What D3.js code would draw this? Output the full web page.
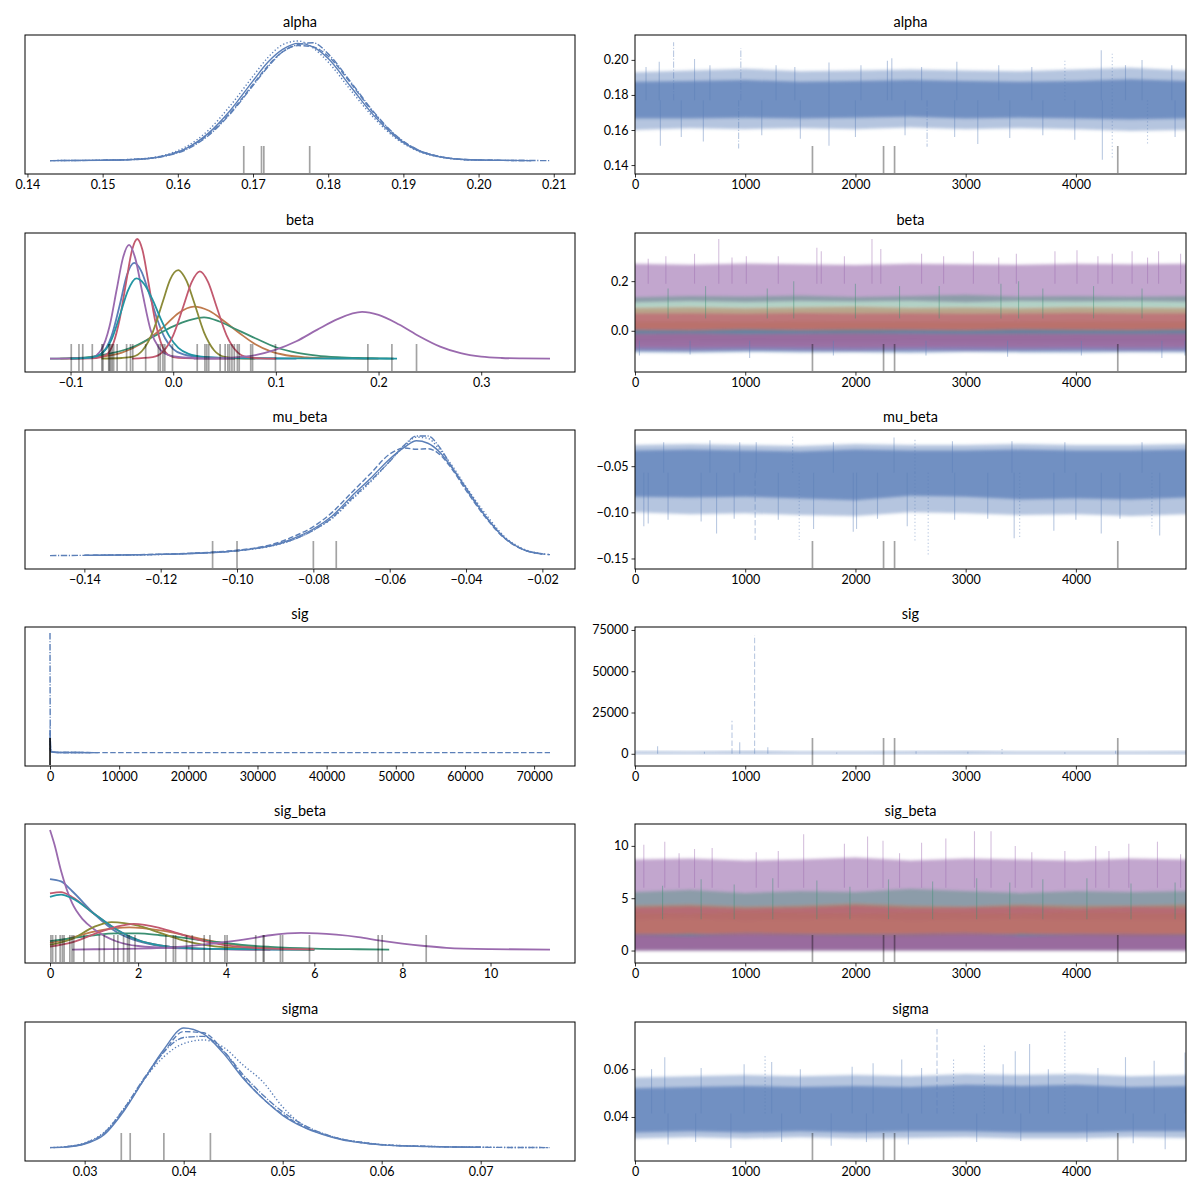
<!DOCTYPE html>
<html>
<head>
<meta charset="utf-8">
<script src="https://cdn.jsdelivr.net/npm/d3@7"></script>
<style>
  body { margin: 0; background: #fff; }
  svg text { font-family: "Liberation Sans Narrow", "Lato", sans-serif; fill: #000; }
</style>
</head>
<body>
<div id="chart"></div>
<script>
// ---- shared ----
const chainDash = ["", "5.5,2.4", "1.3,2.2", "6.4,1.6,1.2,1.6"];
const divergentDraws = [1610, 2255, 2355, 4380];
const drawTicks = [0, 1000, 2000, 3000, 4000];
const traceDraws = [0, 500, 1000, 1500, 2000, 2500, 3000, 3500, 4000, 4500, 4999];
const blue = "#5b7fb8";
// component colours: blue, brown, green, red, purple, olive, teal, red, purple
const compColors = ["#5b7fb8", "#bf7a4d", "#3b8f72", "#c2596f", "#9a6aae", "#8b8a38", "#2295a3", "#c2596f", "#9a6aae"];
const compTraceOpacity = [0.55, 0.5, 0.4, 0.55, 0.6, 0.45, 0.5, 0.6, 0.6];
const traceOrder = [8, 2, 5, 1, 7, 6, 0, 3, 4];

// ---- alpha ----
const alphaKdeX = [0.143, 0.150, 0.155, 0.158, 0.161, 0.164, 0.167, 0.170, 0.172, 0.174, 0.176, 0.178, 0.180, 0.183, 0.186, 0.189, 0.192, 0.195, 0.198, 0.202, 0.207, 0.2095];
const alphaKdeY = [
  [0, 0.3, 1.2, 3.7, 10, 23, 43, 68, 84, 95, 100, 97, 87, 63, 39, 20, 8.4, 3, 0.9, 0.3, 0, null],
  [null, 0.4, 1.4, 3.9, 10, 22, 41, 65, 81, 93, 98, 97, 89, 66, 41, 21, 9, 3.3, 1, 0.3, 0, null],
  [0, 0.4, 1.5, 4.3, 11.5, 25.5, 47, 72, 88, 99, 102, 96, 84, 60, 37, 19, 8, 2.8, 0.8, 0.2, null, null],
  [0, 0.3, 1.1, 3.4, 9, 21, 40, 64, 80, 93, 99, 100.5, 91, 67, 42, 21.5, 9, 3.2, 1, 0.3, 0.05, 0]
];
const alphaDivergent = [0.16877, 0.17113, 0.17144, 0.17754];
const alphaXTicks = [0.14, 0.15, 0.16, 0.17, 0.18, 0.19, 0.20, 0.21];
const alphaYTicks = [0.14, 0.16, 0.18, 0.20];
const alphaOuterLo = [0.160, 0.161, 0.1605, 0.161, 0.1605, 0.1615, 0.1605, 0.161, 0.1605, 0.1595, 0.160];
const alphaOuterHi = [0.193, 0.194, 0.195, 0.1935, 0.194, 0.1945, 0.194, 0.1935, 0.1945, 0.1955, 0.194];
const alphaInnerLo = [0.1665, 0.1665, 0.167, 0.1665, 0.167, 0.1675, 0.1665, 0.167, 0.1665, 0.166, 0.1665];
const alphaInnerHi = [0.1875, 0.188, 0.1885, 0.1875, 0.188, 0.1885, 0.188, 0.1875, 0.188, 0.189, 0.188];
const alphaSpikes = [[220, 0.199], [350, 0.210, 3], [540, 0.2005], [960, 0.2065, 3], [1280, 0.197], [1760, 0.1985],
  [2290, 0.1995], [2330, 0.201], [2920, 0.199], [3900, 0.1995, 2], [4230, 0.2055], [4330, 0.2035, 2], [4600, 0.2], [4870, 0.197],
  [100, 0.196], [680, 0.197], [1450, 0.196], [2050, 0.197], [2600, 0.196], [3300, 0.197], [3600, 0.196], [4450, 0.197],
  [230, 0.151], [620, 0.1535], [940, 0.1495, 3], [1760, 0.151], [2650, 0.1505, 3], [3110, 0.152], [3990, 0.1545],
  [4240, 0.143], [4330, 0.143, 2], [4650, 0.151, 2], [1500, 0.155], [3400, 0.1555],
  [420, 0.156], [1150, 0.157], [2000, 0.156], [2450, 0.157], [2900, 0.156], [3700, 0.157], [4900, 0.156]];

// ---- beta (9 components) ----
const betaKdeX = [
  [-0.10, -0.08, -0.07, -0.06, -0.052, -0.045, -0.038, -0.031, -0.024, -0.016, -0.008, 0.0, 0.01, 0.02, 0.04, 0.07, 0.10, 0.12],
  [-0.11, -0.09, -0.07, -0.05, -0.03, -0.01, 0.005, 0.02, 0.035, 0.05, 0.065, 0.08, 0.095, 0.11, 0.13, 0.15, 0.18, 0.2],
  [-0.12, -0.10, -0.08, -0.06, -0.04, -0.02, 0.0, 0.015, 0.03, 0.045, 0.06, 0.08, 0.10, 0.12, 0.14, 0.16, 0.18, 0.2, 0.215],
  [-0.10, -0.075, -0.065, -0.058, -0.052, -0.046, -0.040, -0.035, -0.030, -0.024, -0.018, -0.012, -0.005, 0.005, 0.02, 0.06],
  [-0.12, -0.09, -0.08, -0.07, -0.062, -0.055, -0.049, -0.043, -0.037, -0.030, -0.022, -0.014, -0.005, 0.01, 0.03, 0.06],
  [-0.07, -0.05, -0.04, -0.03, -0.02, -0.01, -0.003, 0.001, 0.005, 0.009, 0.013, 0.02, 0.03, 0.04, 0.05, 0.06, 0.08],
  [-0.10, -0.08, -0.07, -0.06, -0.052, -0.044, -0.036, -0.028, -0.02, -0.012, -0.004, 0.005, 0.015, 0.03, 0.06, 0.10, 0.15, 0.218],
  [-0.04, -0.02, -0.01, 0.0, 0.01, 0.018, 0.026, 0.034, 0.042, 0.052, 0.062, 0.072, 0.085, 0.1],
  [0.02, 0.04, 0.06, 0.08, 0.10, 0.12, 0.14, 0.16, 0.184, 0.20, 0.22, 0.24, 0.26, 0.28, 0.30, 0.32, 0.34, 0.367]
];
const betaKdeY = [
  [0, 0.6, 4, 19, 45, 70, 80, 73, 56, 34, 17, 8, 3.5, 1.8, 0.8, 0.3, 0.1, 0],
  [0, 0.4, 1.5, 5, 13, 26, 38, 43.5, 40, 31, 21, 12, 6, 2.8, 1, 0.4, 0.1, 0],
  [0, 0.4, 1.5, 4.5, 9.5, 18, 27, 32, 34.5, 31, 25, 17, 9.5, 5, 2.5, 1.2, 0.5, 0.2, 0],
  [0, 0.5, 3.3, 13.5, 33.5, 63, 91, 100, 91, 63, 33.5, 13.5, 3.3, 0.6, 0.2, 0],
  [0, 0.4, 0.8, 7.5, 27, 58, 84, 95, 84, 55, 24, 9, 3, 1, 0.3, 0],
  [0, 0.5, 1.4, 6.8, 22, 48, 66, 72, 74, 71, 65, 48, 22, 6.8, 1.4, 0.3, 0],
  [0, 0.8, 4, 16, 36, 57, 67, 62, 49, 33, 19, 9, 4, 1.5, 0.5, 0.2, 0.1, 0],
  [0, 1.2, 5.8, 19.5, 44, 64, 73, 64, 44, 19.5, 5.8, 1.2, 0.2, 0],
  [0, 0.3, 1, 3, 7.5, 14.5, 24, 33, 39, 36.5, 28.5, 18.5, 10, 4.5, 1.6, 0.5, 0.15, 0]
];
const betaDivergent = [-0.0993, -0.0918, -0.0881, -0.0788, -0.0695, -0.0684, -0.0628, -0.0621, -0.061, -0.0595, -0.058,
  -0.0546, -0.0454, -0.0416, -0.0394, -0.0268, -0.0145, -0.0126, -0.01, -0.0082, -0.0007, 0.0234, 0.0309, 0.0327, 0.0346,
  0.0457, 0.0506, 0.0532, 0.055, 0.0572, 0.0595, 0.0625, 0.0643, 0.0755, 0.0773, 0.0996, 0.1896, 0.213, 0.237];
const betaXTicks = [-0.1, 0.0, 0.1, 0.2, 0.3];
const betaYTicks = [0.0, 0.2];
const betaBandLo = [
  [-0.086, -0.088, -0.085, -0.087, -0.086, -0.089, -0.085, -0.087, -0.088, -0.086, -0.087],
  [-0.042, -0.04, -0.044, -0.041, -0.043, -0.04, -0.042, -0.044, -0.041, -0.043, -0.042],
  [-0.05, -0.048, -0.052, -0.049, -0.051, -0.048, -0.05, -0.052, -0.049, -0.05, -0.051],
  [-0.065, -0.066, -0.064, -0.065, -0.067, -0.065, -0.064, -0.066, -0.065, -0.066, -0.065],
  [-0.078, -0.08, -0.077, -0.079, -0.081, -0.078, -0.08, -0.079, -0.078, -0.08, -0.079],
  [-0.026, -0.027, -0.025, -0.026, -0.028, -0.025, -0.026, -0.027, -0.025, -0.026, -0.026],
  [-0.082, -0.083, -0.081, -0.082, -0.084, -0.081, -0.082, -0.083, -0.081, -0.082, -0.082],
  [-0.006, -0.007, -0.005, -0.006, -0.008, -0.005, -0.006, -0.007, -0.005, -0.006, -0.006],
  [0.115, 0.12, 0.116, 0.12, 0.118, 0.121, 0.115, 0.12, 0.118, 0.12, 0.117]
];
const betaBandHi = [
  [0.002, 0.0, 0.003, 0.001, -0.001, 0.002, 0.0, 0.003, 0.001, 0.0, 0.002],
  [0.092, 0.095, 0.091, 0.094, 0.097, 0.092, 0.094, 0.091, 0.095, 0.093, 0.092],
  [0.135, 0.14, 0.138, 0.142, 0.136, 0.14, 0.145, 0.138, 0.14, 0.137, 0.14],
  [-0.012, -0.011, -0.013, -0.012, -0.01, -0.012, -0.013, -0.011, -0.012, -0.012, -0.011],
  [-0.012, -0.01, -0.013, -0.011, -0.012, -0.01, -0.012, -0.013, -0.011, -0.012, -0.011],
  [0.036, 0.037, 0.035, 0.038, 0.036, 0.037, 0.035, 0.036, 0.038, 0.036, 0.037],
  [0.004, 0.002, 0.006, 0.003, 0.005, 0.004, 0.002, 0.006, 0.004, 0.003, 0.005],
  [0.07, 0.071, 0.069, 0.072, 0.07, 0.071, 0.069, 0.07, 0.072, 0.07, 0.071],
  [0.27, 0.266, 0.271, 0.268, 0.265, 0.27, 0.268, 0.266, 0.27, 0.268, 0.27]
];
const betaSpikeComp = [8, 2, 0];
const betaSpikeCenter = [0.19, 0.05, -0.04];
const betaSpikes = [
  [[280, 0.3], [540, 0.31], [760, 0.37], [1010, 0.3], [1300, 0.3], [1650, 0.335], [1690, 0.32], [2150, 0.37], [2230, 0.33],
   [2600, 0.31], [3070, 0.32], [3460, 0.31], [3810, 0.32], [4010, 0.325], [4330, 0.31], [4510, 0.32], [4750, 0.32], [4950, 0.31],
   [120, 0.29], [880, 0.295], [1900, 0.3], [2800, 0.3], [3300, 0.295], [4200, 0.3], [4650, 0.295]],
  [[300, 0.17], [640, 0.18], [1200, 0.17], [1440, 0.2], [2000, 0.19], [2400, 0.18], [2760, 0.18], [3320, 0.19], [3480, 0.2],
   [3700, 0.17], [4160, 0.18], [4600, 0.17]],
  [[40, -0.1], [500, -0.095], [1040, -0.11], [1800, -0.1], [2640, -0.1], [3380, -0.105], [4050, -0.1], [4780, -0.11], [4990, -0.1]]
];

// ---- mu_beta ----
const muKdeX = [-0.149, -0.14, -0.13, -0.12, -0.11, -0.10, -0.095, -0.09, -0.085, -0.08, -0.075, -0.07, -0.065, -0.06, -0.056, -0.053, -0.05, -0.047, -0.044, -0.04, -0.035, -0.03, -0.025, -0.02, -0.018];
const muKdeY = [
  [null, 0.2, 0.5, 1, 2, 4, 6, 9, 14.5, 22, 33, 49, 64, 80, 90, 95, 93, 86, 74, 56, 33, 15, 5, 1.4, null],
  [null, 0.3, 0.6, 1.2, 2.3, 4.5, 6.5, 10, 16, 24, 36, 52, 68, 84, 89, 88, 88.5, 84, 73, 54, 32, 14.5, 5, 1.4, 0.8],
  [null, null, 0.4, 0.9, 2, 4, 5.8, 8.5, 13.5, 21, 31, 46, 61, 78, 91, 98, 97, 88, 76, 57, 35, 16, 5.5, 1.5, 0.8],
  [0, 0.2, 0.5, 1, 2.1, 4, 6, 9, 13.5, 21, 31.5, 47, 62, 78, 92, 99, 99, 90, 75, 55, 33, 15, 5, 1.3, null]
];
const muDivergent = [-0.1064, -0.100, -0.080, -0.074];
const muXTicks = [-0.14, -0.12, -0.10, -0.08, -0.06, -0.04, -0.02];
const muYTicks = [-0.15, -0.10, -0.05];
const muOuterLo = [-0.100, -0.102, -0.101, -0.103, -0.104, -0.100, -0.101, -0.103, -0.102, -0.104, -0.102];
const muOuterHi = [-0.027, -0.026, -0.027, -0.028, -0.026, -0.027, -0.027, -0.026, -0.027, -0.027, -0.026];
const muInnerLo = [-0.083, -0.084, -0.083, -0.085, -0.087, -0.082, -0.083, -0.086, -0.085, -0.086, -0.084];
const muInnerHi = [-0.033, -0.032, -0.033, -0.034, -0.032, -0.033, -0.033, -0.032, -0.033, -0.033, -0.032];
const muSpikes = [[80, -0.115], [120, -0.112], [600, -0.11], [740, -0.123], [1090, -0.130, 1], [1490, -0.130, 2], [1620, -0.118],
  [1980, -0.121], [2010, -0.118], [2470, -0.115], [2540, -0.132, 2], [2660, -0.147, 2], [3440, -0.128], [3490, -0.129, 2],
  [3800, -0.12], [4230, -0.123], [4690, -0.118, 2], [4760, -0.125],
  [300, -0.108], [900, -0.107], [1300, -0.108], [2200, -0.107], [2900, -0.108], [3200, -0.107], [4000, -0.108], [4400, -0.107],
  [1430, -0.018, 2], [2350, -0.019], [2540, -0.021, 2], [680, -0.022], [3420, -0.023], [260, -0.024], [950, -0.024], [2880, -0.023],
  [1100, -0.024], [1800, -0.024], [3900, -0.024], [4600, -0.024]];

// ---- sig ----
const sigKdeX = [
  [0, 40, 150, 500, 1500, 6500],
  [0, 80, 300, 1500, 10000, 72300],
  [0, 40, 200, 800, 3000, 6000],
  [0, 15, 50, 150, 500, 1500, 7000]
];
const sigKdeY = [
  [18, 7, 1.2, 0.3, 0.1, 0],
  [4, 1.5, 0.4, 0.1, 0, 0],
  [22, 6, 0.8, 0.2, 0.05, 0],
  [100, 55, 12, 2, 0.5, 0.1, 0]
];
const sigDivergent = [2, 5, 9, 14];
const sigXTicks = [0, 10000, 20000, 30000, 40000, 50000, 60000, 70000];
const sigYTicks = [0, 25000, 50000, 75000];
const sigBandLo = [0, 0, 0, 0, 0, 0, 0, 0, 0, 0, 0];
const sigBandHi = [1400, 1200, 1600, 1300, 1200, 1400, 1500, 1200, 1300, 1200, 1400];
const sigSpikes = [[205, 4500], [630, 1200], [880, 20000, 1], [950, 7000], [1085, 72000, 1], [1205, 4000], [1830, 800],
  [2550, 1500], [3020, 1200], [3330, 4000, 2], [3900, 900], [4360, 1800]];

// ---- sig_beta (9 components) ----
const sigBetaKdeX = [
  [0, 0.25, 0.5, 1.0, 1.5, 2.0, 2.5, 3.0, 4.0, 5.0, 6.0],
  [0, 0.5, 1, 1.5, 1.8, 2.5, 3, 3.5, 4, 5, 6],
  [0, 0.5, 1, 1.5, 2, 2.5, 3, 3.5, 4, 4.5, 5, 6, 7, 7.7],
  [0, 0.25, 0.5, 1.0, 1.5, 2, 2.5, 3, 4, 5],
  [0, 0.1, 0.25, 0.5, 0.75, 1.0, 1.5, 2, 3, 4, 5],
  [0, 0.5, 1.0, 1.4, 2, 2.5, 3, 3.5, 4, 5, 6],
  [0, 0.25, 0.5, 1.0, 1.5, 2.0, 2.5, 3, 4, 5, 6],
  [0, 0.5, 1.0, 1.5, 1.9, 2.5, 3, 3.5, 4, 5, 6],
  [0.5, 1, 2, 3, 4, 4.5, 5, 5.7, 6.5, 7, 7.5, 8, 8.5, 9, 10, 11.35]
];
const sigBetaKdeY = [
  [59, 57, 49, 30, 15, 7, 3, 1.5, 0.4, 0.1, 0],
  [5.6, 10, 15, 18, 18.5, 16, 12.5, 8.5, 5, 1.5, 0.3],
  [7, 9.5, 12, 13.5, 13.5, 12, 10, 7.5, 5.5, 3.5, 2.3, 0.9, 0.3, 0],
  [47, 48, 44, 30, 17, 8, 3.5, 1.5, 0.4, 0],
  [100, 88, 66, 39, 25, 17, 7, 3, 1, 0.3, 0],
  [4, 9, 19, 23, 20, 14, 8, 4, 1.8, 0.4, 0.1],
  [44, 46, 43, 30, 17, 8, 3.5, 1.5, 0.5, 0.2, 0],
  [2.5, 6, 13, 19, 21.5, 18, 12.5, 7, 3.5, 0.8, 0.2],
  [0, 0.3, 0.8, 2.5, 6.5, 9, 12, 14, 12.5, 10.5, 7.5, 5, 3, 1.5, 0.4, 0]
];
const sigBetaDivergent = [0.02, 0.06, 0.13, 0.23, 0.28, 0.32, 0.45, 0.5, 0.54, 0.77, 1.12, 1.23, 1.45, 1.54, 1.67, 1.76,
  1.8, 1.93, 2.63, 2.8, 2.85, 3.1, 3.23, 3.5, 3.63, 3.97, 4.02, 4.67, 4.84, 4.86, 5.23, 5.28, 5.89, 7.45, 7.54, 8.54];
const sigBetaXTicks = [0, 2, 4, 6, 8, 10];
const sigBetaYTicks = [0, 5, 10];
const sigBetaBandLo = [
  [0, 0, 0, 0, 0, 0, 0, 0, 0, 0, 0],
  [0.15, 0.2, 0.15, 0.18, 0.15, 0.2, 0.16, 0.15, 0.18, 0.15, 0.17],
  [0.3, 0.28, 0.32, 0.3, 0.29, 0.31, 0.3, 0.28, 0.3, 0.32, 0.3],
  [0, 0, 0, 0, 0, 0, 0, 0, 0, 0, 0],
  [0, 0, 0, 0, 0, 0, 0, 0, 0, 0, 0],
  [0.15, 0.16, 0.14, 0.15, 0.17, 0.15, 0.14, 0.16, 0.15, 0.15, 0.16],
  [0, 0, 0, 0, 0, 0, 0, 0, 0, 0, 0],
  [0.3, 0.32, 0.28, 0.3, 0.31, 0.29, 0.3, 0.32, 0.3, 0.29, 0.3],
  [3.0, 3.1, 2.9, 3.0, 3.1, 2.9, 3.0, 3.05, 2.95, 3.0, 3.0]
];
const sigBetaBandHi = [
  [1.6, 1.5, 1.7, 1.6, 1.5, 1.6, 1.7, 1.5, 1.6, 1.6, 1.5],
  [4.3, 4.4, 4.2, 4.3, 4.5, 4.3, 4.2, 4.4, 4.3, 4.3, 4.4],
  [5.6, 5.8, 5.5, 5.7, 5.6, 5.9, 5.7, 5.5, 5.7, 5.6, 5.7],
  [1.5, 1.4, 1.6, 1.5, 1.45, 1.5, 1.6, 1.4, 1.5, 1.55, 1.5],
  [1.4, 1.35, 1.45, 1.4, 1.4, 1.35, 1.45, 1.4, 1.4, 1.35, 1.4],
  [3.6, 3.5, 3.7, 3.6, 3.5, 3.65, 3.6, 3.5, 3.7, 3.6, 3.55],
  [1.5, 1.6, 1.45, 1.5, 1.55, 1.5, 1.45, 1.6, 1.5, 1.5, 1.55],
  [4.1, 4.2, 4.0, 4.1, 4.3, 4.05, 4.1, 4.2, 4.0, 4.15, 4.1],
  [8.7, 8.8, 8.6, 8.7, 8.9, 8.6, 8.8, 8.7, 8.6, 8.8, 8.7]
];
const sigBetaSpikeComp = [8, 2];
const sigBetaSpikeCenter = [6, 3];
const sigBetaSpikes = [
  [[80, 10.1], [270, 10.4], [540, 9.7], [700, 9.8], [1530, 11.1], [1900, 10.2], [2110, 10.9], [2250, 10.5], [2600, 10.3],
   [2820, 10.7], [3080, 11.4], [3230, 11.4], [3450, 10], [3900, 9.5], [4180, 10], [4480, 10.2], [4740, 10.4], [4950, 9.2],
   [400, 9.3], [1100, 9.4], [1300, 9.5], [2400, 9.3], [3600, 9.4], [4300, 9.5]],
  [[250, 6.2], [600, 6.8], [900, 6.3], [1250, 6.9], [1650, 6.7], [1950, 6.1], [2300, 6.8], [2700, 6.6], [3100, 6.9],
   [3400, 6.5], [3700, 6.8], [4100, 6.9], [4500, 6.4], [4900, 6.5]]
];

// ---- sigma ----
const sigmaKdeX = [0.0265, 0.028, 0.030, 0.032, 0.034, 0.036, 0.038, 0.040, 0.042, 0.044, 0.046, 0.048, 0.050, 0.052, 0.054, 0.056, 0.058, 0.060, 0.065, 0.070, 0.077];
const sigmaKdeY = [
  [0, 0.5, 3, 11, 31, 57, 82, 100, 95, 79, 58, 41, 27, 17.5, 11, 6.5, 4, 2.3, 0.8, 0.3, null],
  [null, 0.6, 3.4, 12, 32, 57, 80, 97, 96, 81, 59, 41, 28, 18, 11.5, 7, 4.3, 2.5, 0.9, 0.3, null],
  [0, 0.7, 4, 13, 33, 57, 76, 87, 90, 84, 69, 55, 34, 19, 11.5, 7, 4.5, 2.6, 1, 0.35, 0],
  [null, 0.6, 3.6, 12.5, 33, 58, 80, 92, 93, 81, 61, 44, 30, 19.5, 12, 7, 4.2, 2.4, 0.9, 0.3, 0]
];
const sigmaDivergent = [0.0337, 0.0346, 0.0380, 0.0427];
const sigmaXTicks = [0.03, 0.04, 0.05, 0.06, 0.07];
const sigmaYTicks = [0.04, 0.06];
const sigmaOuterLo = [0.031, 0.0315, 0.031, 0.0315, 0.031, 0.0312, 0.0315, 0.031, 0.031, 0.0315, 0.0312];
const sigmaOuterHi = [0.0565, 0.057, 0.0575, 0.057, 0.0575, 0.057, 0.058, 0.0575, 0.058, 0.057, 0.0575];
const sigmaInnerLo = [0.0335, 0.034, 0.0335, 0.034, 0.0335, 0.034, 0.034, 0.0335, 0.0335, 0.034, 0.034];
const sigmaInnerHi = [0.052, 0.0525, 0.053, 0.0525, 0.053, 0.0525, 0.0535, 0.053, 0.0535, 0.0525, 0.053];
const sigmaSpikes = [[270, 0.065], [990, 0.062], [1180, 0.066, 2], [1240, 0.063], [1970, 0.061], [2160, 0.0625], [2420, 0.064],
  [2740, 0.077, 1], [2890, 0.064, 2], [3170, 0.0705, 2], [3340, 0.062], [3450, 0.0675], [3580, 0.0705], [3900, 0.076, 2],
  [4450, 0.065], [4710, 0.0635], [4990, 0.067],
  [150, 0.06], [600, 0.0605], [1500, 0.06], [2600, 0.0605], [3750, 0.06], [4200, 0.0605],
  [300, 0.0285], [870, 0.027], [1330, 0.0295], [1780, 0.028], [2480, 0.0285], [3100, 0.0295], [4520, 0.029], [4810, 0.0265],
  [550, 0.0295], [2100, 0.0295], [3500, 0.03], [4100, 0.0295]];

// ---- layout ----
const W = 1200, H = 1200;
const colL = [25, 575], colR = [635, 1186];
const rowTop = [35, 233, 430, 627, 824, 1022];
const rowH = 139;

const svg = d3.select("#chart").append("svg").attr("width", W).attr("height", H);
// soft vertical edges for the dense trace bands
svg.append("defs").append("filter").attr("id", "fuzz")
  .attr("x", "-5%").attr("y", "-20%").attr("width", "110%").attr("height", "140%")
  .append("feGaussianBlur").attr("stdDeviation", "0 1.6");
let clipId = 0;

function panel(col, row, title) {
  const w = col[1] - col[0], h = rowH;
  const g = svg.append("g").attr("transform", `translate(${col[0]},${rowTop[row]})`);
  const id = "clip" + (clipId++);
  g.append("clipPath").attr("id", id).append("rect").attr("width", w).attr("height", h);
  const plot = g.append("g").attr("clip-path", `url(#${id})`);
  g.append("text").attr("x", w / 2).attr("y", -8).attr("text-anchor", "middle")
    .style("font-size", "14.5px").text(title);
  return { g, plot, w, h };
}

function finishAxes(p, x, xTicks, xFmt, y, yTicks, yFmt) {
  const ax = p.g.append("g").attr("transform", `translate(0,${p.h})`)
    .call(d3.axisBottom(x).tickValues(xTicks).tickFormat(xFmt).tickSize(3.5).tickPadding(3));
  ax.select(".domain").remove();
  ax.selectAll("text").style("font-size", "12.5px");
  ax.selectAll("line").attr("stroke-width", 0.8);
  if (y) {
    const ay = p.g.append("g")
      .call(d3.axisLeft(y).tickValues(yTicks).tickFormat(yFmt).tickSize(3.5).tickPadding(3));
    ay.select(".domain").remove();
    ay.selectAll("text").style("font-size", "12.5px");
    ay.selectAll("line").attr("stroke-width", 0.8);
  }
  p.g.append("rect").attr("width", p.w).attr("height", p.h)
    .attr("fill", "none").attr("stroke", "#000").attr("stroke-width", 1);
}

function divergenceRug(p, x, values) {
  p.plot.selectAll(null).data(values).join("line")
    .attr("x1", d => x(d)).attr("x2", d => x(d))
    .attr("y1", p.h - 1).attr("y2", p.h - 28)
    .attr("stroke", "#000").attr("stroke-opacity", 0.36).attr("stroke-width", 1.7);
}

function kdePanel(row, title, curves, divs, xTicks, xFmt, width) {
  const p = panel(colL, row, title);
  const xs = [];
  let M = 0;
  curves.forEach(c => c.xs.forEach((v, i) => {
    if (c.ys[i] != null) { xs.push(v); M = Math.max(M, c.ys[i]); }
  }));
  const [a, b] = d3.extent(xs), pad = (b - a) * 0.05;
  const x = d3.scaleLinear().domain([a - pad, b + pad]).range([0, p.w]);
  const y = d3.scaleLinear().domain([-0.112 * M, 1.05 * M]).range([p.h, 0]);

  const line = d3.line().defined(d => d[1] != null)
    .x(d => x(d[0])).y(d => y(d[1])).curve(d3.curveMonotoneX);
  curves.forEach(c => {
    p.plot.append("path").datum(c.xs.map((v, i) => [v, c.ys[i]]))
      .attr("d", line).attr("fill", "none").attr("stroke", c.color)
      .attr("stroke-width", width || 1.4).attr("stroke-dasharray", c.dash);
  });
  divergenceRug(p, x, divs);
  finishAxes(p, x, xTicks, xFmt);
}

function tracePanel(row, title, yDomain, yTicks, yFmt, bands, spikes) {
  const p = panel(colR, row, title);
  const x = d3.scaleLinear().domain([0, 4999]).range([0, p.w]);
  const y = d3.scaleLinear().domain(yDomain).range([p.h, 0]);
  const bandG = p.plot.append("g").attr("filter", "url(#fuzz)");
  bands.forEach(b => {
    const area = d3.area()
      .x((d, i) => x(traceDraws[i]))
      .y0((d, i) => y(b.lo[i])).y1((d, i) => y(b.hi[i]));
    bandG.append("path").datum(b.lo).attr("d", area)
      .attr("fill", b.color).attr("fill-opacity", b.opacity);
  });
  spikes.forEach(s => {
    p.plot.selectAll(null).data(s.pts).join("line")
      .attr("x1", d => x(d[0])).attr("x2", d => x(d[0]))
      .attr("y1", y(s.center)).attr("y2", d => y(d[1]))
      .attr("stroke", s.color).attr("stroke-opacity", 0.42).attr("stroke-width", 1.1)
      .attr("stroke-dasharray", d => chainDash[d[2] || 0]);
  });
  divergenceRug(p, x, divergentDraws);
  finishAxes(p, x, drawTicks, d3.format("d"), y, yTicks, yFmt);
}

const chainCurves = (xs, ys) => ys.map((c, k) => ({ xs, ys: c, color: blue, dash: chainDash[k] }));
const chainCurvesOwnX = (xs, ys) => ys.map((c, k) => ({ xs: xs[k], ys: c, color: blue, dash: chainDash[k] }));
const compCurves = (xs, ys) => ys.map((c, k) => ({ xs: xs[k], ys: c, color: compColors[k], dash: "" }));
const singleBands = (oLo, oHi, iLo, iHi) => [
  { lo: oLo, hi: oHi, color: blue, opacity: 0.45 },
  { lo: iLo, hi: iHi, color: blue, opacity: 0.75 }
];
const compBands = (lo, hi) => traceOrder.map(k => ({ lo: lo[k], hi: hi[k], color: compColors[k], opacity: compTraceOpacity[k] }));

// ---- left column: densities ----
kdePanel(0, "alpha", chainCurves(alphaKdeX, alphaKdeY), alphaDivergent, alphaXTicks, d3.format(".2f"));
kdePanel(1, "beta", compCurves(betaKdeX, betaKdeY), betaDivergent, betaXTicks, d3.format(".1f"), 1.8);
kdePanel(2, "mu_beta", chainCurves(muKdeX, muKdeY), muDivergent, muXTicks, d3.format(".2f"));
kdePanel(3, "sig", chainCurvesOwnX(sigKdeX, sigKdeY), sigDivergent, sigXTicks, d3.format("d"));
kdePanel(4, "sig_beta", compCurves(sigBetaKdeX, sigBetaKdeY), sigBetaDivergent, sigBetaXTicks, d3.format("d"), 1.8);
kdePanel(5, "sigma", chainCurves(sigmaKdeX, sigmaKdeY), sigmaDivergent, sigmaXTicks, d3.format(".2f"));

// ---- right column: traces ----
tracePanel(0, "alpha", [0.1349, 0.2142], alphaYTicks, d3.format(".2f"),
  singleBands(alphaOuterLo, alphaOuterHi, alphaInnerLo, alphaInnerHi),
  [{ pts: alphaSpikes, center: 0.177, color: blue }]);
tracePanel(1, "beta", [-0.166, 0.394], betaYTicks, d3.format(".1f"),
  compBands(betaBandLo, betaBandHi),
  betaSpikeComp.map((k, j) => ({ pts: betaSpikes[j], center: betaSpikeCenter[j], color: compColors[k] })));
tracePanel(2, "mu_beta", [-0.1614, -0.0108], muYTicks, d3.format(".2f"),
  singleBands(muOuterLo, muOuterHi, muInnerLo, muInnerHi),
  [{ pts: muSpikes, center: -0.057, color: blue }]);
tracePanel(3, "sig", [-7400, 76800], sigYTicks, d3.format("d"),
  [{ lo: sigBandLo, hi: sigBandHi, color: blue, opacity: 0.6 }],
  [{ pts: sigSpikes, center: 0, color: blue }]);
tracePanel(4, "sig_beta", [-1.19, 12.09], sigBetaYTicks, d3.format("d"),
  compBands(sigBetaBandLo, sigBetaBandHi),
  sigBetaSpikeComp.map((k, j) => ({ pts: sigBetaSpikes[j], center: sigBetaSpikeCenter[j], color: compColors[k] })));
tracePanel(5, "sigma", [0.0216, 0.0797], sigmaYTicks, d3.format(".2f"),
  singleBands(sigmaOuterLo, sigmaOuterHi, sigmaInnerLo, sigmaInnerHi),
  [{ pts: sigmaSpikes, center: 0.0415, color: blue }]);
</script>
</body>
</html>
